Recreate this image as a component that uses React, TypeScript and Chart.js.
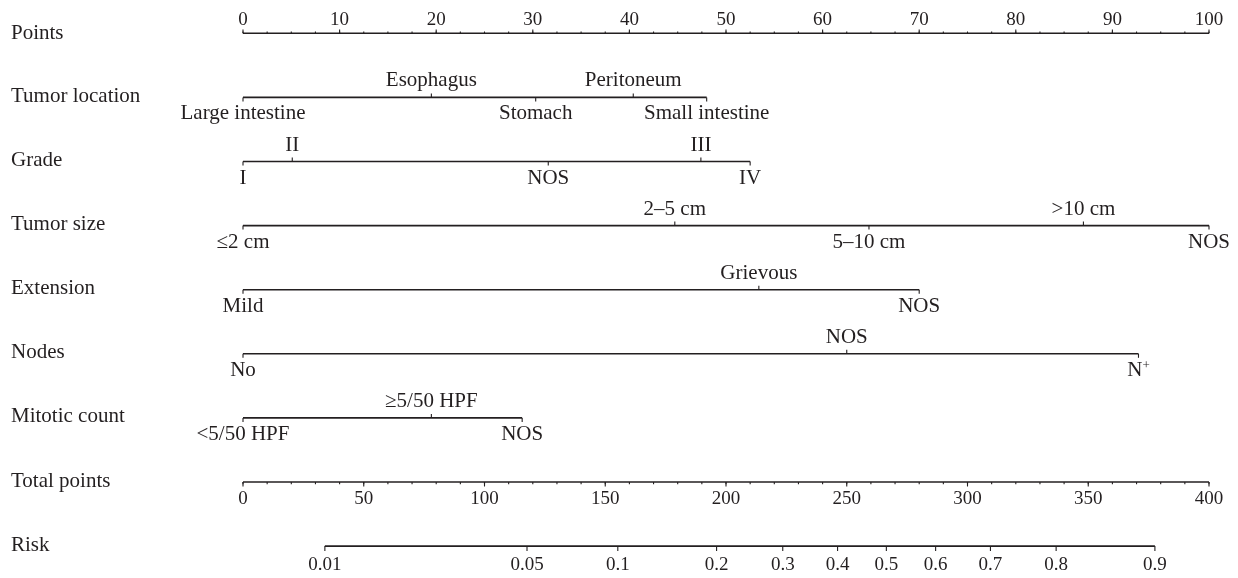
import React, { useEffect, useRef } from "react";
import { Chart, registerables } from "chart.js";

Chart.register(...registerables);

// ---------- data ----------
const rowNames = [
  "Points",
  "Tumor location",
  "Grade",
  "Tumor size",
  "Extension",
  "Nodes",
  "Mitotic count",
  "Total points",
  "Risk",
];

const pointsTicks = [0, 10, 20, 30, 40, 50, 60, 70, 80, 90, 100];
const pointsMinorStep = 2.5;

const locationLabels = ["Large intestine", "Esophagus", "Stomach", "Peritoneum", "Small intestine"];
const locationPoints = [0, 19.5, 30.3, 40.4, 48.0];

const gradeLabels = ["I", "II", "NOS", "III", "IV"];
const gradePoints = [0, 5.1, 31.6, 47.4, 52.5];

const sizeLabels = ["≤2 cm", "2–5 cm", "5–10 cm", ">10 cm", "NOS"];
const sizePoints = [0, 44.7, 64.8, 87.0, 100];

const extensionLabels = ["Mild", "Grievous", "NOS"];
const extensionPoints = [0, 53.4, 70.0];

const nodesLabels = ["No", "NOS", "N⁺"];
const nodesPoints = [0, 62.5, 92.7];

const mitoticLabels = ["<5/50 HPF", "≥5/50 HPF", "NOS"];
const mitoticPoints = [0, 19.5, 28.9];

const totalTicks = [0, 50, 100, 150, 200, 250, 300, 350, 400];
const totalMinorStep = 10;

const riskLabels = ["0.01", "0.05", "0.1", "0.2", "0.3", "0.4", "0.5", "0.6", "0.7", "0.8", "0.9"];
const riskTotalPoints = [33.9, 117.6, 155.2, 196.1, 223.5, 246.2, 266.4, 286.8, 309.5, 336.7, 377.6];

// ---------- styling ----------
const INK = "#231f20";
const FONT = '"Liberation Serif", "Times New Roman", serif';

const categoryRows = [
  { row: 1, labels: locationLabels, values: locationPoints },
  { row: 2, labels: gradeLabels, values: gradePoints },
  { row: 3, labels: sizeLabels, values: sizePoints },
  { row: 4, labels: extensionLabels, values: extensionPoints },
  { row: 5, labels: nodesLabels, values: nodesPoints },
  { row: 6, labels: mitoticLabels, values: mitoticPoints },
];

function lineDataset(row: number, from: number, to: number, axis: string) {
  return {
    data: [
      { x: from, y: row },
      { x: to, y: row },
    ],
    xAxisID: axis,
    yAxisID: "y",
    showLine: true,
    borderColor: INK,
    borderWidth: 1.6,
    pointRadius: 0,
    pointHoverRadius: 0,
    clip: false as any,
  };
}

const nomogramPlugin = {
  id: "nomogram",
  afterDatasetsDraw(chart: any) {
    const ctx: CanvasRenderingContext2D = chart.ctx;
    const xs = chart.scales.x;
    const x2 = chart.scales.x2;
    const ys = chart.scales.y;
    ctx.save();
    ctx.strokeStyle = INK;
    ctx.fillStyle = INK;
    ctx.lineWidth = 1.1;

    const tick = (px: number, y0: number, y1: number) => {
      ctx.beginPath();
      ctx.moveTo(px, y0);
      ctx.lineTo(px, y1);
      ctx.stroke();
    };

    // row names
    ctx.font = `21px ${FONT}`;
    ctx.textAlign = "left";
    ctx.textBaseline = "alphabetic";
    rowNames.forEach((n, i) => {
      ctx.fillText(n, 11, ys.getPixelForValue(i) + (i === 0 ? 5.5 : 4.5));
    });

    // Points axis
    const py = ys.getPixelForValue(0);
    const pMax = pointsTicks[pointsTicks.length - 1];
    for (let v = pointsTicks[0]; v <= pMax + 1e-9; v += pointsMinorStep) {
      const px = xs.getPixelForValue(v);
      tick(px, py, py - 1.8);
    }
    ctx.font = `19px ${FONT}`;
    ctx.textAlign = "center";
    pointsTicks.forEach((v) => {
      const px = xs.getPixelForValue(v);
      tick(px, py, py - 3.8);
      ctx.fillText(String(v), px, py - 8.5);
    });

    // categorical rows
    categoryRows.forEach((r) => {
      const ry = ys.getPixelForValue(r.row);
      r.labels.forEach((lab, k) => {
        const px = xs.getPixelForValue(r.values[k]);
        const above = k % 2 === 1;
        tick(px, ry, above ? ry - 4 : ry + 4);
        const by = above ? ry - 11 : ry + 22;
        if (lab.endsWith("⁺")) {
          const base = lab.slice(0, -1);
          ctx.font = `21px ${FONT}`;
          const wb = ctx.measureText(base).width;
          ctx.font = `13px ${FONT}`;
          const ws = ctx.measureText("+").width;
          const left = px - (wb + ws) / 2;
          ctx.textAlign = "left";
          ctx.font = `21px ${FONT}`;
          ctx.fillText(base, left, by);
          ctx.font = `13px ${FONT}`;
          ctx.fillText("+", left + wb, by - 7);
          ctx.textAlign = "center";
        } else {
          ctx.font = `21px ${FONT}`;
          ctx.fillText(lab, px, by);
        }
      });
    });

    // Total points axis
    const ty = ys.getPixelForValue(7);
    const tMax = totalTicks[totalTicks.length - 1];
    for (let v = totalTicks[0]; v <= tMax + 1e-9; v += totalMinorStep) {
      tick(x2.getPixelForValue(v), ty, ty + 2.3);
    }
    ctx.font = `19px ${FONT}`;
    ctx.textAlign = "center";
    totalTicks.forEach((v) => {
      const px = x2.getPixelForValue(v);
      tick(px, ty, ty + 4.5);
      ctx.fillText(String(v), px, ty + 22);
    });

    // Risk axis
    const ry = ys.getPixelForValue(8);
    riskLabels.forEach((lab, k) => {
      const px = x2.getPixelForValue(riskTotalPoints[k]);
      tick(px, ry, ry + 5);
      ctx.fillText(lab, px, ry + 23.5);
    });

    ctx.restore();
  },
};

export default function App() {
  const ref = useRef<HTMLCanvasElement | null>(null);

  useEffect(() => {
    document.body.style.margin = "0";
    const canvas = ref.current;
    if (!canvas) return;

    const datasets = [
      lineDataset(0, pointsTicks[0], pointsTicks[pointsTicks.length - 1], "x"),
      ...categoryRows.map((r) =>
        lineDataset(r.row, Math.min(...r.values), Math.max(...r.values), "x")
      ),
      lineDataset(7, totalTicks[0], totalTicks[totalTicks.length - 1], "x2"),
      lineDataset(8, riskTotalPoints[0], riskTotalPoints[riskTotalPoints.length - 1], "x2"),
    ];

    const chart = new Chart(canvas, {
      type: "scatter",
      data: { datasets: datasets as any },
      options: {
        animation: false,
        responsive: false,
        devicePixelRatio: 1,
        layout: { padding: { left: 243, right: 29, top: 33.3, bottom: 31.9 } },
        scales: {
          x: { type: "linear", min: 0, max: 100, display: false },
          x2: { type: "linear", min: 0, max: 400, display: false },
          y: { type: "linear", min: 0, max: 8, reverse: true, display: false },
        },
        plugins: {
          legend: { display: false },
          tooltip: { enabled: false },
        },
        events: [],
      },
      plugins: [nomogramPlugin],
    });

    return () => chart.destroy();
  }, []);

  return (
    <div style={{ width: 1238, height: 578, background: "#fff" }}>
      <canvas ref={ref} width={1238} height={578} style={{ display: "block" }} />
    </div>
  );
}
